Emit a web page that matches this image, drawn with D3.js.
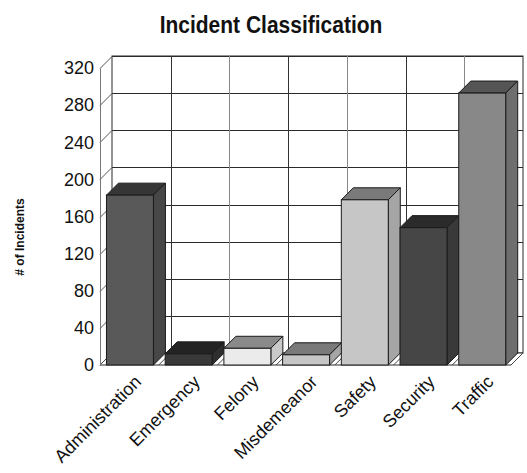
<!DOCTYPE html>
<html>
<head>
<meta charset="utf-8">
<script src="https://cdn.jsdelivr.net/npm/d3@7"></script>
<style>
  html, body { margin: 0; padding: 0; background: #fff; }
  svg { display: block; font-family: Arial, "Liberation Sans", sans-serif; }
</style>
</head>
<body>
<svg id="chart" width="527" height="473"></svg>
<script>
// Incident counts per classification
const categories = ["Administration", "Emergency", "Felony", "Misdemeanor", "Safety", "Security", "Traffic"];
const incidents = [183, 12, 18, 11, 178, 148, 293];
const yTicks = [0, 40, 80, 120, 160, 200, 240, 280, 320];

// Face shades per bar: front, top, side
const frontFill = ["#595959", "#393939", "#ebebeb", "#c6c6c6", "#c6c6c6", "#464646", "#888888"];
const topFill   = ["#363636", "#232323", "#8a8a8a", "#7a7a7a", "#7a7a7a", "#2b2b2b", "#555555"];
const sideFill  = ["#474747", "#2e2e2e", "#c9c9c9", "#a5a5a5", "#a5a5a5", "#393939", "#6e6e6e"];

const svg = d3.select("#chart");

// Plot geometry: front plane plus a receding depth offset
const plotLeft = 100, plotRight = 511, plotBottom = 365, plotTop = 68;
const depth = { x: 12, y: -12 };

const x = d3.scaleBand().domain(categories).range([plotLeft, plotRight]);
const y = d3.scaleLinear().domain([0, 320]).range([plotBottom, plotTop]);
const bw = x.bandwidth();
const barX = c => x(c) + bw * 0.11;
const barW = bw * 0.80;

const lineColor = "#2a2a2a";
const pts = arr => arr.map(p => p.join(",")).join(" ");

// Back wall
const wall = svg.append("g");
wall.append("rect")
  .attr("x", plotLeft + depth.x).attr("y", plotTop + depth.y)
  .attr("width", plotRight - plotLeft).attr("height", plotBottom - plotTop)
  .attr("fill", "#fff").attr("stroke", lineColor).attr("stroke-width", 1);

// Horizontal gridlines on the back wall and their diagonals on the side wall
yTicks.forEach(t => {
  const yy = Math.round(y(t)) + 0.5;
  wall.append("line")
    .attr("x1", plotLeft + depth.x).attr("x2", plotRight + depth.x)
    .attr("y1", yy + depth.y).attr("y2", yy + depth.y)
    .attr("stroke", lineColor);
  wall.append("line")
    .attr("x1", plotLeft).attr("x2", plotLeft + depth.x)
    .attr("y1", yy).attr("y2", yy + depth.y)
    .attr("stroke", "#555");
});

// Vertical gridlines at band boundaries
categories.forEach((c, i) => {
  if (i === 0) return;
  const xx = Math.round(x(c) + depth.x) + 0.5;
  wall.append("line")
    .attr("x1", xx).attr("x2", xx)
    .attr("y1", y(320) + depth.y).attr("y2", y(0) + depth.y)
    .attr("stroke", i % 2 ? "#333" : "#888");
});

// Floor slab
const floor = svg.append("g");
floor.append("polygon")
  .attr("points", pts([
    [plotLeft, plotBottom], [plotRight, plotBottom],
    [plotRight + depth.x, plotBottom + depth.y], [plotLeft + depth.x, plotBottom + depth.y]
  ]))
  .attr("fill", "#fff").attr("stroke", lineColor);
categories.concat([null]).forEach(c => {
  const xx = c === null ? plotRight : x(c);
  floor.append("line")
    .attr("x1", xx).attr("y1", plotBottom)
    .attr("x2", xx + depth.x).attr("y2", plotBottom + depth.y)
    .attr("stroke", "#444");
});

// Bars as three-faced prisms
const bars = svg.append("g").selectAll("g.bar")
  .data(categories.map((c, i) => ({ c, v: incidents[i], i })))
  .join("g").attr("class", "bar");

bars.append("polygon") // top
  .attr("points", d => {
    const x0 = barX(d.c), x1 = x0 + barW, yt = y(d.v);
    return pts([[x0, yt], [x1, yt], [x1 + depth.x, yt + depth.y], [x0 + depth.x, yt + depth.y]]);
  })
  .attr("fill", d => topFill[d.i]).attr("stroke", "#1a1a1a").attr("stroke-linejoin", "round");

bars.append("polygon") // side
  .attr("points", d => {
    const x1 = barX(d.c) + barW, yt = y(d.v), yb = y(0);
    return pts([[x1, yt], [x1 + depth.x, yt + depth.y], [x1 + depth.x, yb + depth.y], [x1, yb]]);
  })
  .attr("fill", d => sideFill[d.i]).attr("stroke", "#1a1a1a").attr("stroke-linejoin", "round");

bars.append("rect") // front
  .attr("x", d => barX(d.c)).attr("y", d => y(d.v))
  .attr("width", barW).attr("height", d => y(0) - y(d.v))
  .attr("fill", d => frontFill[d.i]).attr("stroke", "#1a1a1a");

// Value axis on the front plane
const yAxis = svg.append("g")
  .attr("transform", `translate(${plotLeft},0)`)
  .call(d3.axisLeft(y).tickValues(yTicks).tickSize(0).tickPadding(6).tickFormat(d3.format("d")));
yAxis.select(".domain").attr("stroke", "#777");
yAxis.selectAll("text")
  .attr("font-size", 18).attr("fill", "#111")
  .attr("font-family", "Arial, 'Liberation Sans', sans-serif");

// Category labels, rotated
const xAxis = svg.append("g");
xAxis.selectAll("text")
  .data(categories)
  .join("text")
  .attr("transform", c => `translate(${x(c) + bw / 2 + 13},${plotBottom + 18}) rotate(-45)`)
  .attr("text-anchor", "end")
  .attr("font-size", 18).attr("fill", "#111")
  .text(c => c);

// Axis title
svg.append("text")
  .attr("transform", `translate(24,237) rotate(-90)`)
  .attr("text-anchor", "middle")
  .attr("font-size", 12).attr("font-weight", "bold").attr("fill", "#111")
  .text("# of Incidents");

// Chart title
svg.append("text")
  .attr("transform", "translate(271,33) scale(1,1.12)")
  .attr("text-anchor", "middle")
  .attr("font-size", 21).attr("font-weight", "bold").attr("fill", "#111")
  .text("Incident Classification");
</script>
</body>
</html>
